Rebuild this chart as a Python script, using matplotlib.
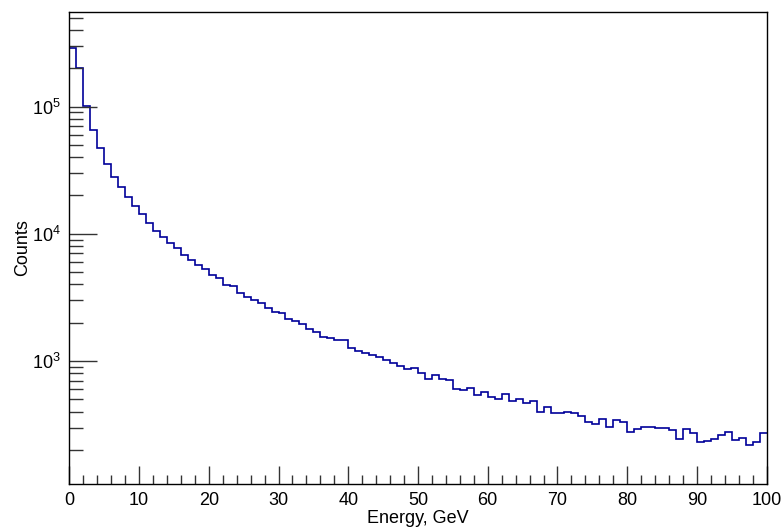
import numpy as np
import matplotlib
matplotlib.use("Agg")
import matplotlib.pyplot as plt
from matplotlib.ticker import FixedLocator, FixedFormatter, MultipleLocator, NullFormatter

# ---- data ----
bin_edges = list(range(0, 101))
counts = [
    290000, 200000, 101000, 65300, 46900, 35600, 27700, 23200, 19300, 16400,
    14300, 12200, 10600, 9460, 8490, 7700, 6780, 6200, 5700, 5240,
    4730, 4460, 3930, 3880, 3420, 3180, 3030, 2840, 2630, 2430,
    2370, 2130, 2060, 1970, 1800, 1688, 1551, 1506, 1471, 1460,
    1258, 1197, 1155, 1115, 1082, 1018, 971, 914, 866, 877,
    805, 718, 776, 718, 706, 600, 593, 618, 538, 569,
    519, 507, 548, 489, 501, 472, 481, 394, 432, 388,
    391, 398, 391, 373, 333, 319, 349, 304, 345, 329,
    279, 291, 304, 304, 300, 298, 288, 242, 293, 270,
    232, 235, 246, 261, 277, 238, 249, 218, 233, 270,
]
x_ticks = [0, 10, 20, 30, 40, 50, 60, 70, 80, 90, 100]
x_tick_labels = ["0", "10", "20", "30", "40", "50", "60", "70", "80", "90", "100"]
y_ticks = [1e3, 1e4, 1e5]
y_tick_labels = [r"$10^{3}$", r"$10^{4}$", r"$10^{5}$"]
x_label = "Energy, GeV"
y_label = "Counts"

plt.rcParams["font.family"] = ["Liberation Sans", "DejaVu Sans"]
plt.rcParams["mathtext.fontset"] = "custom"
plt.rcParams["mathtext.rm"] = "Liberation Sans"
plt.rcParams["mathtext.it"] = "Liberation Sans:italic"

fig = plt.figure(figsize=(7.82, 5.30), dpi=100)
ax = fig.add_axes([69.3 / 782, (530 - 483.5) / 530,
                   (766.7 - 69.3) / 782, (483.5 - 12) / 530])

ax.stairs(counts, bin_edges, baseline=None, color="#000099", linewidth=1.2)

ax.set_yscale("log")
ax.set_xlim(0, 100)
ax.set_ylim(109, 553000)

ax.xaxis.set_major_locator(FixedLocator(x_ticks))
ax.xaxis.set_major_formatter(FixedFormatter(x_tick_labels))
ax.xaxis.set_minor_locator(MultipleLocator(2))

ax.yaxis.set_major_locator(FixedLocator(y_ticks))
ax.yaxis.set_major_formatter(FixedFormatter(y_tick_labels))
minor_y = [m * 10 ** e for e in range(2, 6) for m in range(2, 10)]
ax.yaxis.set_minor_locator(FixedLocator(minor_y))
ax.yaxis.set_minor_formatter(NullFormatter())

ax.tick_params(axis="x", which="major", direction="in", length=13, width=1,
               top=False, labelsize=13, pad=6, color="#333333")
ax.tick_params(axis="x", which="minor", direction="in", length=6.5, width=1,
               top=False, color="#333333")
ax.tick_params(axis="y", which="major", direction="in", length=20, width=1,
               right=False, labelsize=13, pad=6, color="#333333")
ax.tick_params(axis="y", which="minor", direction="in", length=10, width=1,
               right=False, color="#333333")

for s in ax.spines.values():
    s.set_linewidth(1.0)
    s.set_color("black")

ax.set_xlabel(x_label, fontsize=13, labelpad=1)
ax.set_ylabel(y_label, fontsize=13, labelpad=1)

fig.savefig("out.png", dpi=100)
